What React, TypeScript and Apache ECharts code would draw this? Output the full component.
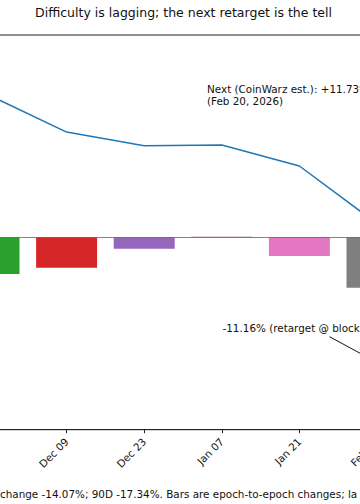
import React, { useEffect, useRef } from "react";
import * as echarts from "echarts";

// Retarget dates (epoch boundaries) visible in the crop
const categories = ["Nov 25", "Dec 09", "Dec 23", "Jan 07", "Jan 21", "Feb 07"];
// Epoch-to-epoch difficulty change, %
const epochChangePct = [-8.13, -6.73, -2.52, 0.15, -4.14, -11.16];
// Network difficulty, T
const difficultyT = [160.8, 150.2, 146.3, 146.5, 140.5, 124.0];

const titleText = "Difficulty is lagging; the next retarget is the tell";
const nextNote = ["Next (CoinWarz est.): +11.73%", "(Feb 20, 2026)"];
const lastNote = "-11.16% (retarget @ block";
const captionText = "change -14.07%; 90D -17.34%. Bars are epoch-to-epoch changes; la";

// matplotlib tab10, bars visible here start at the 3rd colour
const tab10 = ["#1f77b4", "#ff7f0e", "#2ca02c", "#d62728", "#9467bd", "#8c564b", "#e377c2", "#7f7f7f", "#bcbd22", "#17becf"];
const barColorOffset = 2;

const FONT = "DejaVu Sans";
// The figure is wider than the window: it is drawn in a wider canvas shifted left.
const OFF = 100;
const CHART_W = 560;

export default function App() {
  const ref = useRef<HTMLDivElement>(null);
  useEffect(() => {
    if (!ref.current) return;
    const chart = echarts.init(ref.current, null, { renderer: "svg" });
    chart.setOption({
      animation: false,
      backgroundColor: "#ffffff",
      grid: {
        left: OFF - 49.8,
        right: CHART_W - OFF - 415.8,
        top: 35,
        bottom: 74.3,
        show: true,
        borderColor: "#222",
        borderWidth: 1,
        backgroundColor: "transparent",
      },
      xAxis: {
        type: "category",
        data: categories,
        boundaryGap: true,
        position: "bottom",
        axisLine: { show: true, onZero: false, lineStyle: { color: "#222", width: 1 } },
        axisTick: { show: true, alignWithLabel: true, length: 3.5, lineStyle: { color: "#222" } },
        axisLabel: {
          rotate: 45,
          margin: 10,
          align: "right",
          verticalAlign: "middle",
          fontFamily: FONT,
          fontSize: 10.4,
          color: "#111",
        },
        splitLine: { show: false },
      },
      yAxis: [
        { type: "value", min: -42.6, max: 44.8, show: false },
        { type: "value", min: 65, max: 178, show: false },
      ],
      series: [
        {
          type: "bar",
          yAxisIndex: 0,
          data: epochChangePct,
          barWidth: 61,
          itemStyle: {
            color: (p: any) => tab10[(p.dataIndex + barColorOffset) % tab10.length],
          },
          markLine: {
            silent: true,
            symbol: "none",
            label: { show: false },
            lineStyle: { color: "#1f77b4", width: 0.8, type: "solid" },
            data: [{ yAxis: 0 }],
          },
          z: 2,
        },
        {
          type: "line",
          yAxisIndex: 1,
          data: difficultyT,
          symbol: "none",
          lineStyle: { color: "#1f77b4", width: 1.5 },
          z: 3,
        },
      ],
      graphic: [
        {
          type: "text",
          x: OFF + 183.5,
          y: 12.5,
          style: {
            text: titleText,
            font: `12.5px "${FONT}"`,
            fill: "#111",
            textAlign: "center",
            textVerticalAlign: "middle",
          },
        },
        {
          type: "text",
          x: OFF + 207,
          y: 89,
          style: {
            text: nextNote[0],
            font: `10.4px "${FONT}"`,
            fill: "#111",
            textAlign: "left",
            textVerticalAlign: "middle",
          },
        },
        {
          type: "text",
          x: OFF + 207,
          y: 100.5,
          style: {
            text: nextNote[1],
            font: `10.4px "${FONT}"`,
            fill: "#111",
            textAlign: "left",
            textVerticalAlign: "middle",
          },
        },
        {
          type: "text",
          x: OFF + 222.5,
          y: 327.5,
          style: {
            text: lastNote,
            font: `10.4px "${FONT}"`,
            fill: "#111",
            textAlign: "left",
            textVerticalAlign: "middle",
          },
        },
        {
          type: "line",
          shape: { x1: OFF + 329.5, y1: 336.7, x2: OFF + 400, y2: 374.8 },
          style: { stroke: "#111", lineWidth: 1 },
        },
        {
          type: "text",
          x: OFF + 0,
          y: 494,
          style: {
            text: captionText,
            font: `10.4px "${FONT}"`,
            fill: "#111",
            textAlign: "left",
            textVerticalAlign: "middle",
          },
        },
      ],
    });
    return () => chart.dispose();
  }, []);
  return (
    <div
      style={{ position: "absolute", left: 0, top: 0, width: 360, height: 504, overflow: "hidden", background: "#fff" }}
    >
      <div
        ref={ref}
        style={{ position: "absolute", left: -OFF, top: 0, width: CHART_W, height: 504 }}
      />
    </div>
  );
}
